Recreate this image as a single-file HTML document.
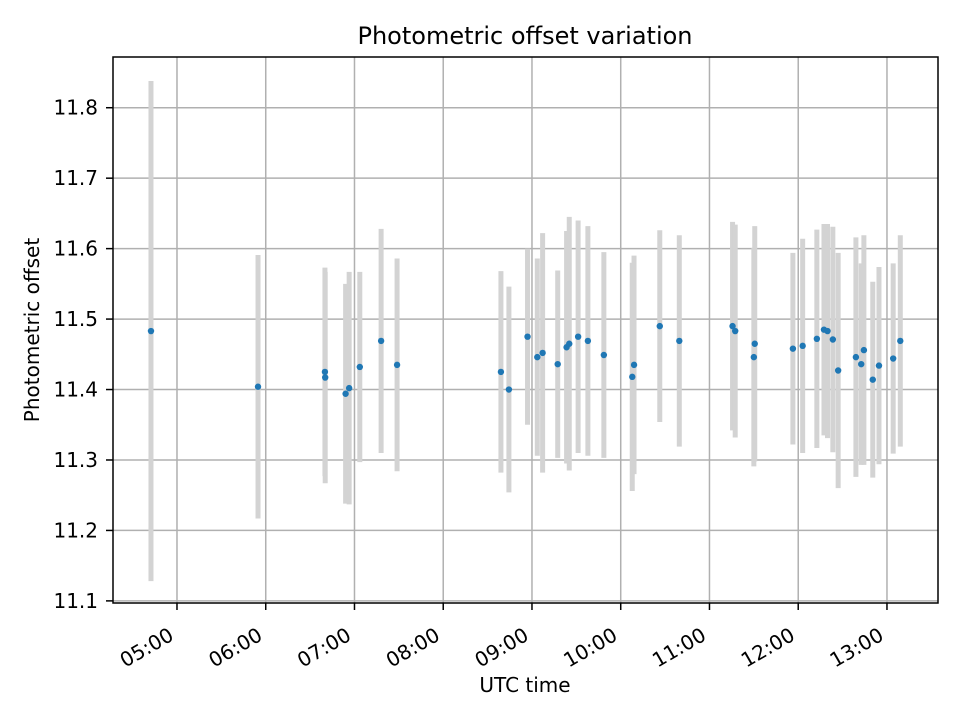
<!DOCTYPE html>
<html><head><meta charset="utf-8"><style>
body{margin:0;background:#fff;}
svg text{font-family:"DejaVu Sans","Liberation Sans",sans-serif;fill:#000;}
</style></head><body>
<svg id="chart" width="960" height="720" xmlns="http://www.w3.org/2000/svg"></svg>
<script>
const times=[4.707,5.913,6.667,6.670,6.90,6.94,7.06,7.30,7.48,8.65,8.74,8.95,9.06,9.12,9.29,9.39,9.42,9.52,9.63,9.81,10.13,10.15,10.44,10.66,11.26,11.29,11.50,11.51,11.94,12.05,12.21,12.29,12.33,12.39,12.45,12.65,12.71,12.74,12.84,12.91,13.07,13.15];
const offsets=[11.483,11.404,11.425,11.417,11.394,11.402,11.432,11.469,11.435,11.425,11.400,11.475,11.446,11.452,11.436,11.460,11.465,11.475,11.469,11.449,11.418,11.435,11.490,11.469,11.490,11.483,11.446,11.465,11.458,11.462,11.472,11.485,11.483,11.471,11.427,11.446,11.436,11.456,11.414,11.434,11.444,11.469];
const errors=[0.355,0.187,0.148,0.150,0.156,0.165,0.135,0.159,0.151,0.143,0.146,0.125,0.140,0.170,0.133,0.165,0.180,0.165,0.163,0.146,0.162,0.155,0.136,0.150,0.148,0.151,0.155,0.167,0.136,0.152,0.155,0.150,0.152,0.160,0.167,0.170,0.143,0.163,0.139,0.140,0.135,0.150];
const yTicks=[11.1,11.2,11.3,11.4,11.5,11.6,11.7,11.8];
const xTicks=[5,6,7,8,9,10,11,12,13];
const xTickLabels=["05:00","06:00","07:00","08:00","09:00","10:00","11:00","12:00","13:00"];

const L=113,R=938,T=57,B=603;
const x0=4.279,x1=13.575,y0=11.097,y1=11.872;
const X=v=>L+(v-x0)/(x1-x0)*(R-L);
const Y=v=>B-(v-y0)/(y1-y0)*(B-T);
const svg=document.getElementById('chart');
const NS='http://www.w3.org/2000/svg';
function mk(tag,attrs,parent){const e=document.createElementNS(NS,tag);for(const k in attrs)e.setAttribute(k,attrs[k]);(parent||svg).appendChild(e);return e;}

const grid=mk('g',{});


xTicks.forEach(t=>{const l=mk('line',{x1:X(t),x2:X(t),y1:T,y2:B,stroke:'#b0b0b0','stroke-width':1.5},grid);

});
yTicks.forEach(t=>{const l=mk('line',{x1:L,x2:R,y1:Y(t),y2:Y(t),stroke:'#b0b0b0','stroke-width':1.5},grid);

});

const eb=mk('g',{});


times.forEach((t,i)=>{const l=mk('line',{x1:X(t),x2:X(t),y1:Y(offsets[i]+errors[i]),y2:Y(offsets[i]-errors[i]),stroke:'#d3d3d3','stroke-width':5},eb);

});
const pts=mk('g',{});


times.forEach((t,i)=>{const c=mk('circle',{cx:X(t),cy:Y(offsets[i]),r:3.2,fill:'#1f77b4'},pts);

});

const frame=mk('rect',{x:L,y:T,width:R-L,height:B-T,fill:'none',stroke:'#000','stroke-width':1.5});



const ya=mk('g',{});


yTicks.forEach(t=>{mk('line',{x1:L-7,x2:L,y1:Y(t),y2:Y(t),stroke:'#000','stroke-width':1.5},ya);
const tx=mk('text',{x:L-15,y:Y(t)+7,'text-anchor':'end','font-size':20},ya);tx.textContent=t.toFixed(1);

});
const xa=mk('g',{});


xTicks.forEach((t,i)=>{mk('line',{x1:X(t),x2:X(t),y1:B,y2:B+7,stroke:'#000','stroke-width':1.5},xa);
const px=X(t)-2,py=B+36;
const tx=mk('text',{x:px,y:py,'text-anchor':'end','font-size':20,transform:`rotate(-30 ${px} ${py})`},xa);tx.textContent=xTickLabels[i];

});
</script>
<script>
(function(){const s=document.getElementById('chart');const NS='http://www.w3.org/2000/svg';
function t(x,y,txt,name,extra){const e=document.createElementNS(NS,'text');e.setAttribute('x',x);e.setAttribute('y',y);e.setAttribute('text-anchor','middle');for(const k in (extra||{}))e.setAttribute(k,extra[k]);e.textContent=txt;


s.appendChild(e);}
t(525,44,'Photometric offset variation','chart-title',{'font-size':24});
t(525,692,'UTC time','x-axis-title',{'font-size':20});
t(39,330,'Photometric offset','y-axis-title',{'font-size':20,transform:'rotate(-90 39 330)'});})();
</script>
</body></html>
